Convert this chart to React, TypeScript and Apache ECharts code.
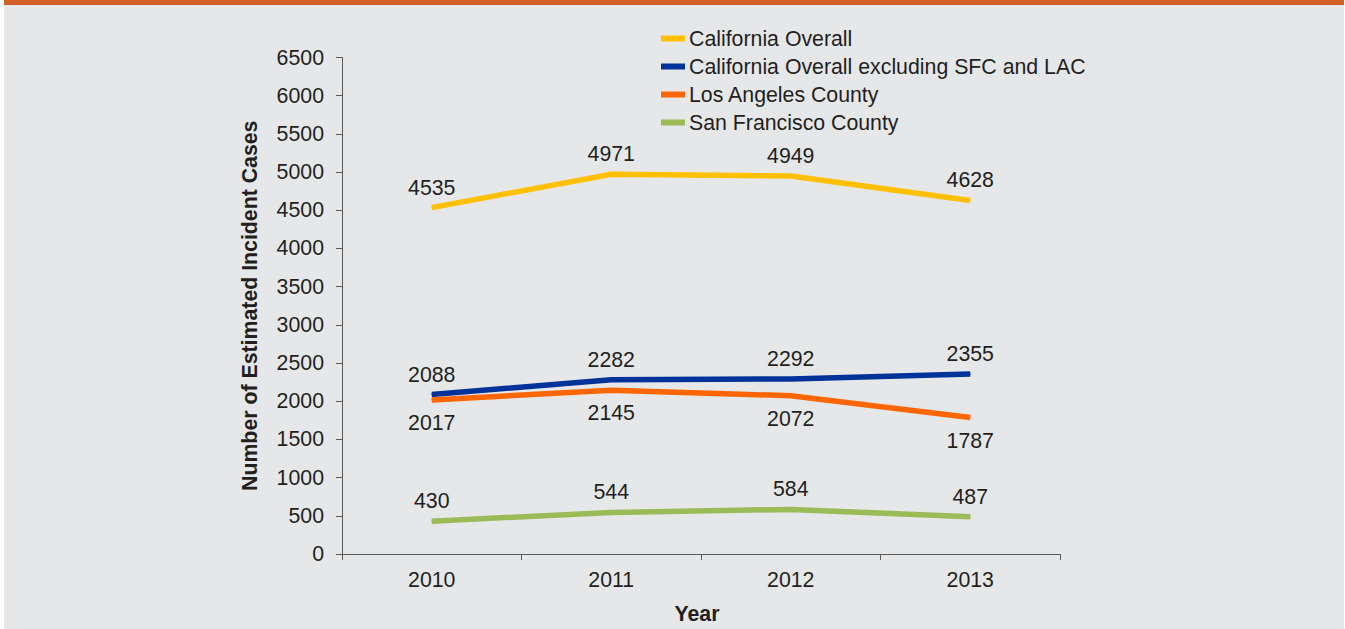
import React, { useEffect, useRef } from "react";
import * as echarts from "echarts";

const years = ["2010", "2011", "2012", "2013"];
const californiaOverall = [4535, 4971, 4949, 4628];
const californiaExcl = [2088, 2282, 2292, 2355];
const losAngeles = [2017, 2145, 2072, 1787];
const sanFrancisco = [430, 544, 584, 487];
const seriesNames = [
  "California Overall",
  "California Overall excluding SFC and LAC",
  "Los Angeles County",
  "San Francisco County",
];

const FONT = "'Liberation Sans', Arial, sans-serif";
const TEXT = "#231f20";
const FS = 21.3;

export default function App() {
  const ref = useRef<HTMLDivElement>(null);
  useEffect(() => {
    document.body.style.margin = "0";
    const chart = echarts.init(ref.current!, null, { renderer: "svg" });
    const mk = (name: string, data: number[], color: string, pos: string, dist: number) => ({
      name,
      type: "line",
      data,
      symbol: "circle",
      symbolSize: 1,
      showSymbol: true,
      lineStyle: { color, width: 5.5 },
      itemStyle: { color },
      label: {
        show: true,
        position: pos,
        distance: dist,
        color: TEXT,
        fontSize: FS,
        fontFamily: FONT,
      },
    });
    chart.setOption({
      animation: false,
      backgroundColor: "#ffffff",
      textStyle: { fontFamily: FONT },
      graphic: [
        { type: "rect", z: -10, shape: { x: 4, y: 0, width: 1340, height: 629 }, style: { fill: "#e6e7e8" } },
        { type: "rect", z: -9, shape: { x: 4, y: 0, width: 1340, height: 5 }, style: { fill: "#d15f27" } },
      ],
      legend: {
        orient: "vertical",
        left: 661,
        top: 28,
        padding: 0,
        itemWidth: 24,
        itemHeight: 6,
        itemGap: 7,
        icon: "rect",
        data: seriesNames,
        textStyle: { color: TEXT, fontSize: FS, fontFamily: FONT, lineHeight: 21, padding: [0, 0, 0, -1] },
      },
      grid: { left: 342, right: 285, top: 57.5, bottom: 72 },
      xAxis: {
        type: "category",
        data: years,
        boundaryGap: true,
        name: "Year",
        nameLocation: "middle",
        nameGap: 49,
        nameTextStyle: { color: TEXT, fontSize: FS, fontWeight: "bold", fontFamily: FONT, padding: [0, 8, 0, 0] },
        axisLine: { lineStyle: { color: "#595959", width: 1 } },
        axisTick: { show: true, length: 6, interval: 0, lineStyle: { color: "#595959" } },
        axisLabel: { color: TEXT, fontSize: FS, margin: 15, fontFamily: FONT },
        splitLine: { show: false },
      },
      yAxis: {
        type: "value",
        min: 0,
        max: 6500,
        interval: 500,
        name: "Number of Estimated Incident Cases",
        nameLocation: "middle",
        nameGap: 82,
        nameTextStyle: { color: TEXT, fontSize: FS, fontWeight: "bold", fontFamily: FONT },
        axisLine: { show: true, lineStyle: { color: "#595959", width: 1 } },
        axisTick: { show: true, length: 6, lineStyle: { color: "#595959" } },
        axisLabel: { color: TEXT, fontSize: FS, margin: 18, fontFamily: FONT, formatter: (v: number) => String(v) },
        splitLine: { show: false },
      },
      series: [
        mk(seriesNames[0], californiaOverall, "#ffc000", "top", 9),
        mk(seriesNames[1], californiaExcl, "#003399", "top", 9),
        mk(seriesNames[2], losAngeles, "#ff6600", "bottom", 12),
        mk(seriesNames[3], sanFrancisco, "#9bbb59", "top", 9),
      ],
    });
    return () => chart.dispose();
  }, []);
  return <div ref={ref} style={{ position: "absolute", left: 0, top: 0, width: 1345, height: 629 }} />;
}
